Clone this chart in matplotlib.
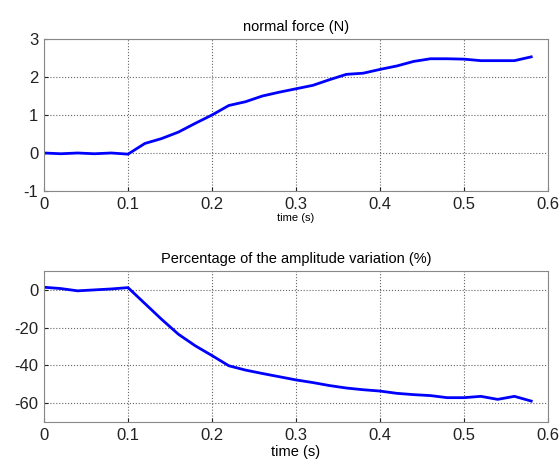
import numpy as np
import matplotlib.pyplot as plt

plt.rcParams['font.family'] = ['Liberation Sans', 'DejaVu Sans']
plt.rcParams['axes.unicode_minus'] = False

# time axis (s)
t = [0.0, 0.02, 0.04, 0.06, 0.08, 0.10, 0.12, 0.14, 0.16, 0.18,
     0.20, 0.22, 0.24, 0.26, 0.28, 0.30, 0.32, 0.34, 0.36, 0.38,
     0.40, 0.42, 0.44, 0.46, 0.48, 0.50, 0.52, 0.54, 0.56, 0.58]

# normal force (N)
force = [0.0, -0.02, 0.0, -0.02, 0.0, -0.03, 0.25, 0.38, 0.55, 0.78,
         1.0, 1.25, 1.35, 1.5, 1.6, 1.69, 1.78, 1.93, 2.07, 2.1,
         2.2, 2.29, 2.41, 2.48, 2.48, 2.47, 2.43, 2.43, 2.43, 2.53]

# amplitude variation (%)
ampl = [1.4, 0.7, -0.5, 0.0, 0.5, 1.2, -7.2, -15.6, -23.5, -29.6,
        -34.8, -40.2, -42.5, -44.3, -46.0, -47.7, -49.1, -50.7, -52.0, -52.9,
        -53.6, -54.8, -55.5, -56.0, -57.1, -57.1, -56.4, -58.0, -56.4, -58.9]

xticks = [0, 0.1, 0.2, 0.3, 0.4, 0.5, 0.6]
xticklabels = ['0', '0.1', '0.2', '0.3', '0.4', '0.5', '0.6']


def style(ax):
    ax.set_xlim(0, 0.6)
    ax.set_xticks(xticks)
    ax.set_xticklabels(xticklabels)
    ax.grid(True, linestyle=':', color='#666666', linewidth=0.8)
    ax.tick_params(direction='in', length=3, labelsize=12, pad=4,
                   colors='#222222')
    for s in ax.spines.values():
        s.set_color('#888888')


fig = plt.figure(figsize=(5.6, 4.71), dpi=100)

ax1 = fig.add_axes([0.0786, 0.5945, 0.9, 0.3227])
ax1.plot(t, force, color='#0000ff', linewidth=2)
style(ax1)
ax1.set_ylim(-1, 3)
ax1.set_yticks([-1, 0, 1, 2, 3])
ax1.set_title('normal force (N)', fontsize=10.5, pad=6)
ax1.set_xlabel('time (s)', fontsize=8, labelpad=1)

ax2 = fig.add_axes([0.0786, 0.104, 0.9, 0.3206])
ax2.plot(t, ampl, color='#0000ff', linewidth=2)
style(ax2)
ax2.set_ylim(-70, 10)
ax2.set_yticks([-60, -40, -20, 0])
ax2.set_title('Percentage of the amplitude variation (%)', fontsize=10.5, pad=6)
ax2.set_xlabel('time (s)', fontsize=10.5, labelpad=2)

fig.savefig('out.png', dpi=100)
